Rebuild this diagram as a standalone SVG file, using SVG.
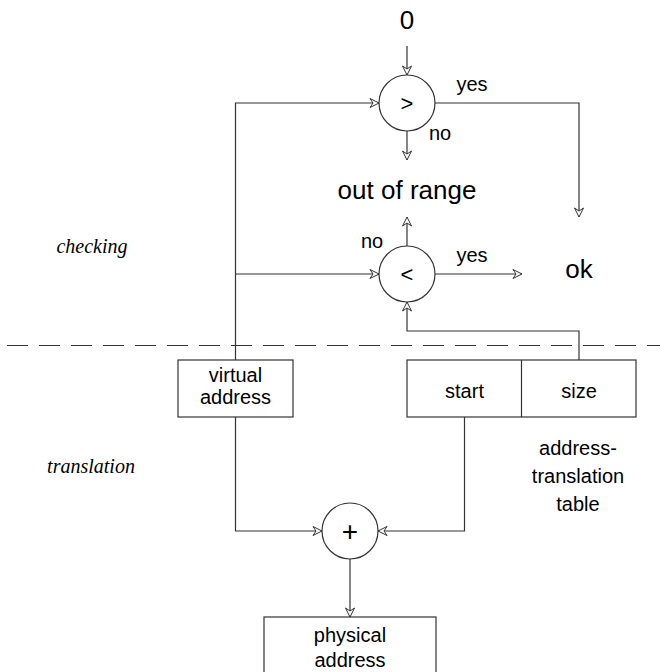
<svg xmlns="http://www.w3.org/2000/svg" width="660" height="672" viewBox="0 0 660 672">
<style>
.ln{fill:none;stroke:#333;stroke-width:1.2}
.nd{fill:#fff;stroke:#333;stroke-width:1.2}
.t{font-family:"Liberation Sans",Arial,sans-serif;fill:#000;text-anchor:middle}
.s{font-size:20px}
.m{font-size:22px}
.p{font-size:28px}
.b{font-size:26px}
.i{font-family:"Liberation Serif","Times New Roman",serif;font-style:italic;font-size:20px;text-anchor:middle;fill:#000}
</style>
<defs>
<marker id="ah" markerWidth="12" markerHeight="12" refX="10" refY="6" orient="auto" markerUnits="userSpaceOnUse">
<path d="M10,6 L1,1.5 L4,6 L1,10.5 Z" fill="#fff" stroke="#333" stroke-width="1"/>
</marker>
</defs>
<rect width="660" height="672" fill="#fff"/>
<g id="connectors">
<path class="ln" d="M407,46 V75" marker-end="url(#ah)"/>
<path class="ln" d="M235.5,360 V103 H379" marker-end="url(#ah)"/>
<path class="ln" d="M235.5,274 H379" marker-end="url(#ah)"/>
<path class="ln" d="M435,103 H579 V217" marker-end="url(#ah)"/>
<path class="ln" d="M407,131 V160" marker-end="url(#ah)"/>
<path class="ln" d="M407,246 V217" marker-end="url(#ah)"/>
<path class="ln" d="M435,274 H522" marker-end="url(#ah)"/>
<path class="ln" d="M579,360 V331 H407 V302" marker-end="url(#ah)"/>
<path class="ln" d="M235.5,417 V531 H322" marker-end="url(#ah)"/>
<path class="ln" d="M464.5,417 V531 H378" marker-end="url(#ah)"/>
<path class="ln" d="M350,559 V617" marker-end="url(#ah)"/>
<path d="M7,345.5 H660" fill="none" stroke="#333" stroke-width="1.2" stroke-dasharray="21 11"/>
</g>
<g id="zero"><text class="t b" x="407" y="29">0</text></g>
<g id="gt">
<circle class="nd" cx="407" cy="103" r="28"/>
<text class="t m" x="407" y="111">&gt;</text>
</g>
<g id="lbl-gt-yes"><text class="t s" x="472" y="91">yes</text></g>
<g id="lbl-gt-no"><text class="t s" x="440" y="140">no</text></g>
<g id="out-of-range"><text class="t b" x="407" y="199">out of range</text></g>
<g id="lt">
<circle class="nd" cx="407" cy="274" r="28"/>
<text class="t m" x="407" y="282">&lt;</text>
</g>
<g id="lbl-lt-no"><text class="t s" x="372" y="248">no</text></g>
<g id="lbl-lt-yes"><text class="t s" x="472" y="262">yes</text></g>
<g id="ok"><text class="t b" x="579" y="278">ok</text></g>
<g id="checking"><text class="i" x="92" y="253">checking</text></g>
<g id="translation"><text class="i" x="91" y="473">translation</text></g>
<g id="virtual-address">
<rect class="nd" x="178" y="360" width="115" height="57"/>
<text class="t s" x="235.5" y="382">virtual</text>
<text class="t s" x="235.5" y="404">address</text>
</g>
<g id="table">
<rect class="nd" x="407" y="360" width="229" height="57"/>
<line class="ln" x1="521.5" y1="360" x2="521.5" y2="417"/>
<text class="t s" x="464.5" y="398">start</text>
<text class="t s" x="579" y="398">size</text>
</g>
<g id="table-label">
<text class="t s" x="578" y="455">address-</text>
<text class="t s" x="578" y="483">translation</text>
<text class="t s" x="578" y="511">table</text>
</g>
<g id="plus">
<circle class="nd" cx="350" cy="531" r="28"/>
<text class="t p" x="350" y="541">+</text>
</g>
<g id="physical-address">
<rect class="nd" x="264" y="617" width="172" height="70"/>
<text class="t s" x="350" y="642">physical</text>
<text class="t s" x="350" y="667">address</text>
</g>
</svg>
